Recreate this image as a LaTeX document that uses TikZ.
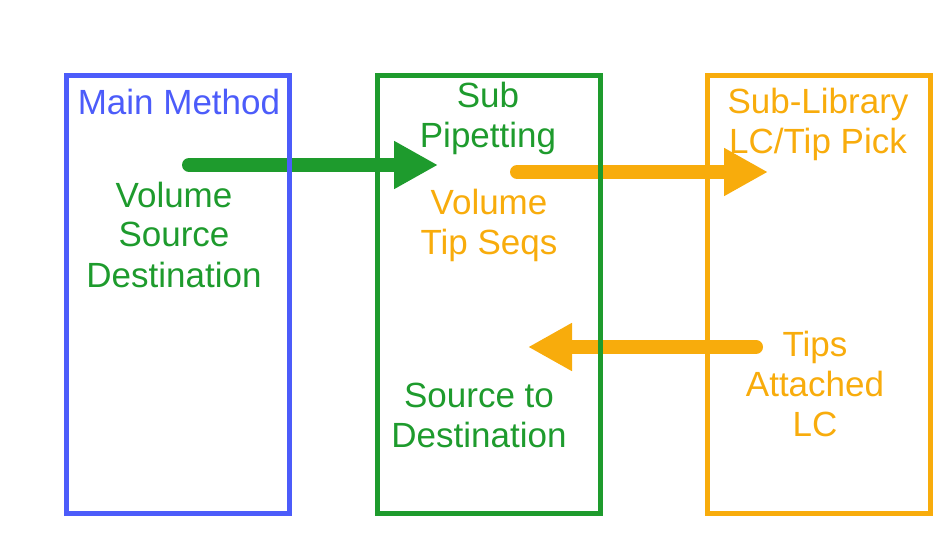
\documentclass[tikz,border=0pt]{standalone}
\usepackage{fontspec}
\setmainfont{Liberation Sans}
\usetikzlibrary{arrows.meta}
\definecolor{cblue}{RGB}{76,92,250}
\definecolor{cgreen}{RGB}{30,155,45}
\definecolor{corange}{RGB}{248,172,12}
\tikzset{
  panel/.style={draw, line width=5pt, minimum width=223pt, minimum height=438pt, inner sep=0pt, fill=none},
  lbl/.style={font=\fontsize{35}{40}\selectfont, align=center, inner sep=0pt, anchor=base},
  bigarrow/.style={line width=14pt, line cap=round, -{Triangle[length=44pt,width=45pt]}},
}
\begin{document}
\begin{tikzpicture}[x=1pt,y=1pt]
\useasboundingbox (0,0) rectangle (944,552);
% arrow end points
\coordinate (gA) at (189,387);
\coordinate (gB) at (438,387);
\coordinate (oA) at (517,380);
\coordinate (oB) at (768,380);
\coordinate (rA) at (756,205);
\coordinate (rB) at (528,205);
\draw[bigarrow, cgreen] (gA) -- (gB);
\draw[bigarrow, corange] (oA) -- (oB);
\draw[bigarrow, corange] (rA) -- (rB);
% boxes
\node[panel, cblue] (main) at (178,257.5) {};
\node[panel, cgreen] (sub) at (488.5,257.5) {};
\node[panel, corange] (lib) at (819,257.5) {};
% labels (anchor = baseline of the last line)
\node[lbl, cblue] (mainT) at (179,437) {Main Method};
\node[lbl, cgreen] (mainV) at (174,265) {Volume\\Source\\Destination};
\node[lbl, cgreen] (subT) at (488,404) {Sub\\Pipetting};
\node[lbl, corange] (subV) at (489,297) {Volume\\Tip Seqs};
\node[lbl, cgreen] (subS) at (479,105) {Source to\\Destination};
\node[lbl, corange] (libT) at (818,398.5) {Sub-Library\\LC/Tip Pick};
\node[lbl, corange] (libS) at (815,116) {Tips\\Attached\\LC};
\end{tikzpicture}
\end{document}
